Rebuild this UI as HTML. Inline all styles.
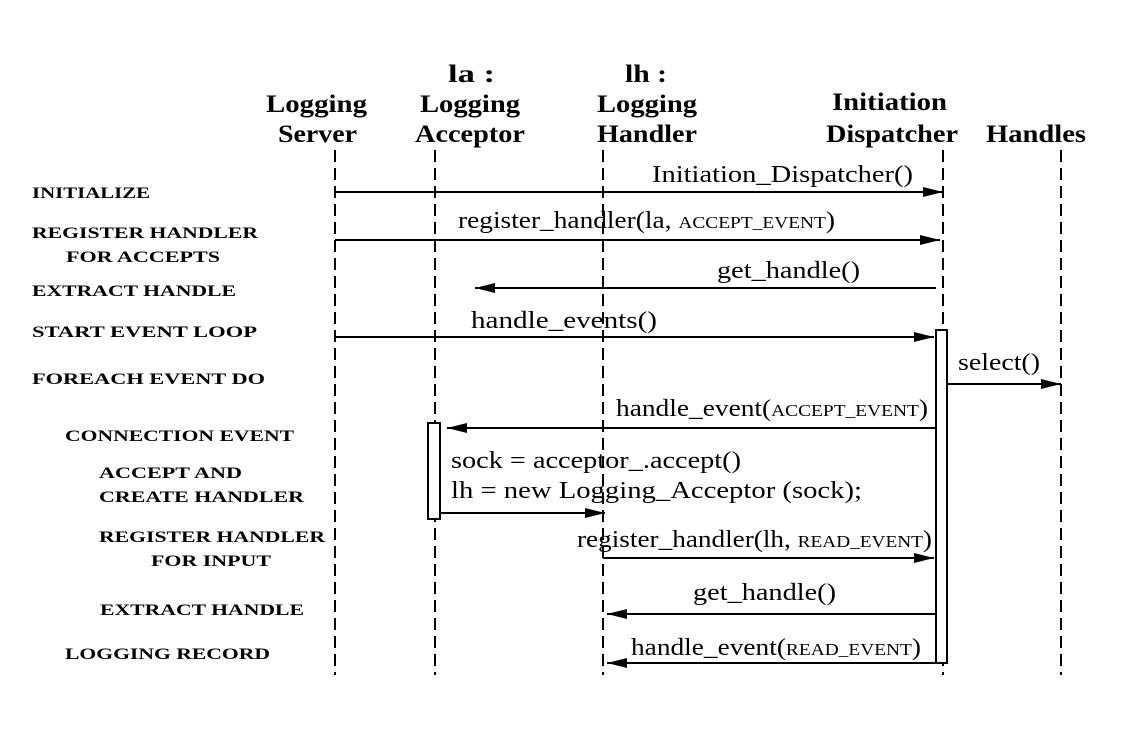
<!DOCTYPE html>
<html><head><meta charset="utf-8"><style>
html,body{margin:0;padding:0;background:#fff;}
svg{display:block;}
.h{font-family:"Liberation Serif",serif;font-weight:bold;font-size:25px;}
.l{font-family:"Liberation Serif",serif;font-weight:bold;font-size:16px;}
.m{font-family:"Liberation Serif",serif;font-size:24px;}
.sc{font-size:17px;}
</style></head><body>
<svg width="1130" height="748" viewBox="0 0 1130 748">
<defs>
<marker id="ah" viewBox="0 0 20 10" refX="20" refY="5" markerWidth="20" markerHeight="10" markerUnits="userSpaceOnUse" orient="auto">
<path d="M0,0 L20,5 L0,10 z" fill="#000"/></marker>
</defs>
<g>
<text class="h" x="266" y="112" textLength="101" lengthAdjust="spacingAndGlyphs">Logging</text>
<text class="h" x="278" y="142" textLength="79" lengthAdjust="spacingAndGlyphs">Server</text>
<text class="h" x="448" y="82" textLength="47" lengthAdjust="spacingAndGlyphs">la :</text>
<text class="h" x="420" y="112" textLength="100" lengthAdjust="spacingAndGlyphs">Logging</text>
<text class="h" x="415" y="142" textLength="110" lengthAdjust="spacingAndGlyphs">Acceptor</text>
<text class="h" x="625" y="82" textLength="42" lengthAdjust="spacingAndGlyphs">lh :</text>
<text class="h" x="597" y="112" textLength="100" lengthAdjust="spacingAndGlyphs">Logging</text>
<text class="h" x="597" y="142" textLength="100" lengthAdjust="spacingAndGlyphs">Handler</text>
<text class="h" x="832" y="110" textLength="115" lengthAdjust="spacingAndGlyphs">Initiation</text>
<text class="h" x="826" y="142" textLength="132" lengthAdjust="spacingAndGlyphs">Dispatcher</text>
<text class="h" x="986" y="142" textLength="100" lengthAdjust="spacingAndGlyphs">Handles</text>
</g>
<g stroke="#000" stroke-width="2" stroke-dasharray="12,6">
<line x1="335" y1="150" x2="335" y2="675"/>
<line x1="435" y1="150" x2="435" y2="675"/>
<line x1="603" y1="150" x2="603" y2="675"/>
<line x1="943" y1="150" x2="943" y2="675"/>
<line x1="1061" y1="150" x2="1061" y2="675"/>
</g>
<rect x="936" y="330" width="11" height="333" fill="#fff" stroke="#000" stroke-width="2"/>
<rect x="428" y="423" width="12" height="96" fill="#fff" stroke="#000" stroke-width="2"/>
<g class="l">
<text x="32" y="198" textLength="118" lengthAdjust="spacingAndGlyphs">INITIALIZE</text>
<text x="32" y="238" textLength="226" lengthAdjust="spacingAndGlyphs">REGISTER  HANDLER</text>
<text x="66" y="262" textLength="154" lengthAdjust="spacingAndGlyphs">FOR  ACCEPTS</text>
<text x="32" y="296" textLength="204" lengthAdjust="spacingAndGlyphs">EXTRACT  HANDLE</text>
<text x="32" y="337" textLength="225" lengthAdjust="spacingAndGlyphs">START  EVENT  LOOP</text>
<text x="32" y="384" textLength="233" lengthAdjust="spacingAndGlyphs">FOREACH  EVENT  DO</text>
<text x="65" y="441" textLength="229" lengthAdjust="spacingAndGlyphs">CONNECTION  EVENT</text>
<text x="99" y="478" textLength="143" lengthAdjust="spacingAndGlyphs">ACCEPT  AND</text>
<text x="99" y="502" textLength="205" lengthAdjust="spacingAndGlyphs">CREATE  HANDLER</text>
<text x="99" y="542" textLength="226" lengthAdjust="spacingAndGlyphs">REGISTER  HANDLER</text>
<text x="151" y="566" textLength="120" lengthAdjust="spacingAndGlyphs">FOR  INPUT</text>
<text x="100" y="615" textLength="204" lengthAdjust="spacingAndGlyphs">EXTRACT  HANDLE</text>
<text x="65" y="659" textLength="205" lengthAdjust="spacingAndGlyphs">LOGGING  RECORD</text>
</g>
<g stroke="#000" stroke-width="2" marker-end="url(#ah)">
<line x1="335" y1="192" x2="943" y2="192"/>
<line x1="335" y1="240" x2="940" y2="240"/>
<line x1="936" y1="288" x2="475" y2="288"/>
<line x1="335" y1="337" x2="934" y2="337"/>
<line x1="947" y1="384" x2="1061" y2="384"/>
<line x1="936" y1="428" x2="447" y2="428"/>
<line x1="440" y1="513" x2="605" y2="513"/>
<line x1="603" y1="558" x2="934" y2="558"/>
<line x1="936" y1="614" x2="607" y2="614"/>
<line x1="936" y1="663" x2="607" y2="663"/>
</g>
<g class="m">
<text x="652" y="182" textLength="261" lengthAdjust="spacingAndGlyphs">Initiation_Dispatcher()</text>
<text x="458" y="228" textLength="377" lengthAdjust="spacingAndGlyphs">register_handler(la, <tspan class="sc">ACCEPT_EVENT</tspan>)</text>
<text x="717" y="278" textLength="143" lengthAdjust="spacingAndGlyphs">get_handle()</text>
<text x="471" y="328" textLength="186" lengthAdjust="spacingAndGlyphs">handle_events()</text>
<text x="958" y="370" textLength="82" lengthAdjust="spacingAndGlyphs">select()</text>
<text x="616" y="416" textLength="312" lengthAdjust="spacingAndGlyphs">handle_event(<tspan class="sc">ACCEPT_EVENT</tspan>)</text>
<text x="451" y="468" textLength="290" lengthAdjust="spacingAndGlyphs">sock = acceptor_.accept()</text>
<text x="451" y="498" textLength="411" lengthAdjust="spacingAndGlyphs">lh = new Logging_Acceptor (sock);</text>
<text x="577" y="547" textLength="355" lengthAdjust="spacingAndGlyphs">register_handler(lh, <tspan class="sc">READ_EVENT</tspan>)</text>
<text x="693" y="600" textLength="143" lengthAdjust="spacingAndGlyphs">get_handle()</text>
<text x="631" y="655" textLength="290" lengthAdjust="spacingAndGlyphs">handle_event(<tspan class="sc">READ_EVENT</tspan>)</text>
</g>
</svg>
</body></html>
